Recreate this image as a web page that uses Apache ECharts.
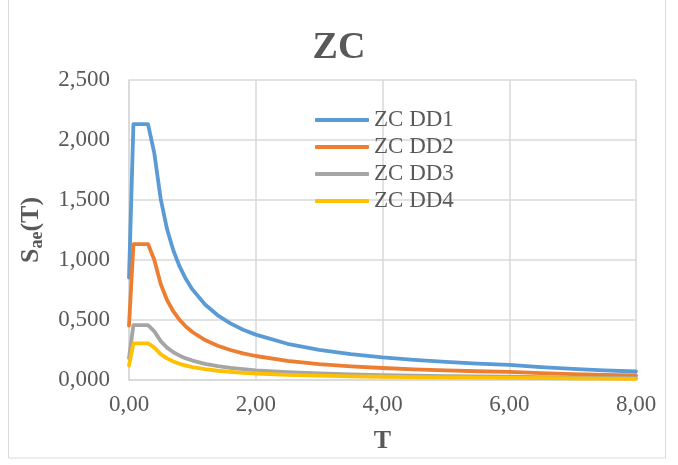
<!DOCTYPE html>
<html>
<head>
<meta charset="utf-8">
<script src="https://cdn.jsdelivr.net/npm/echarts@6/dist/echarts.min.js"></script>
<style>
html,body{margin:0;padding:0;background:#fff;}
#chart{width:678px;height:465px;}
</style>
</head>
<body>
<div id="chart"></div>
<script>
const periods = [0, 0.07, 0.1, 0.2, 0.3, 0.4, 0.5, 0.6, 0.7, 0.8, 0.9, 1.0, 1.2, 1.4, 1.6, 1.8, 2.0, 2.5, 3.0, 3.5, 4.0, 4.5, 5.0, 5.5, 6.0, 6.5, 7.0, 7.5, 8.0];
const zcDD1 = [0.853, 2.133, 2.133, 2.133, 2.133, 1.888, 1.510, 1.258, 1.079, 0.944, 0.839, 0.755, 0.629, 0.539, 0.472, 0.419, 0.378, 0.302, 0.252, 0.216, 0.189, 0.168, 0.151, 0.137, 0.126, 0.107, 0.092, 0.081, 0.071];
const zcDD2 = [0.453, 1.133, 1.133, 1.133, 1.133, 1.000, 0.800, 0.667, 0.571, 0.500, 0.444, 0.400, 0.333, 0.286, 0.250, 0.222, 0.200, 0.160, 0.133, 0.114, 0.100, 0.089, 0.080, 0.073, 0.067, 0.057, 0.049, 0.043, 0.038];
const zcDD3 = [0.183, 0.458, 0.458, 0.458, 0.458, 0.405, 0.324, 0.270, 0.231, 0.203, 0.180, 0.162, 0.135, 0.116, 0.101, 0.090, 0.081, 0.065, 0.054, 0.046, 0.041, 0.036, 0.032, 0.029, 0.027, 0.023, 0.020, 0.017, 0.015];
const zcDD4 = [0.122, 0.306, 0.306, 0.306, 0.306, 0.270, 0.216, 0.180, 0.154, 0.135, 0.120, 0.108, 0.090, 0.077, 0.068, 0.060, 0.054, 0.043, 0.036, 0.031, 0.027, 0.024, 0.022, 0.020, 0.018, 0.015, 0.013, 0.012, 0.010];
const seriesNames = ['ZC DD1', 'ZC DD2', 'ZC DD3', 'ZC DD4'];
const seriesValues = [zcDD1, zcDD2, zcDD3, zcDD4];
const colors = ['#5B9BD5', '#ED7D31', '#A5A5A5', '#FFC000'];
const titleText = 'ZC';

const FONT = '"Liberation Serif", "Times New Roman", serif';
const chart = echarts.init(document.getElementById('chart'), null, {renderer: 'canvas'});
const option = {
  backgroundColor: '#fff',
  animation: false,
  color: colors,
  title: {
    text: titleText,
    left: 'center',
    top: 24,
    textStyle: {fontFamily: FONT, fontSize: 38, fontWeight: 'bold', color: '#595959'}
  },
  graphic: [{
    type: 'rect',
    shape: {x: 8.5, y: -2, width: 657, height: 460},
    style: {fill: 'none', stroke: '#D9D9D9', lineWidth: 1},
    silent: true
  }],
  legend: {
    orient: 'vertical',
    left: 310,
    top: 103,
    itemWidth: 54,
    itemHeight: 4,
    itemGap: 3,
    icon: 'roundRect',
    textStyle: {fontFamily: FONT, fontSize: 23, color: '#595959', lineHeight: 24}
  },
  grid: {left: 129, right: 42, top: 80, bottom: 85, containLabel: false},
  xAxis: {
    type: 'value',
    min: 0, max: 8, interval: 2,
    name: 'T',
    nameLocation: 'middle',
    nameGap: 48,
    nameTextStyle: {fontFamily: FONT, fontSize: 26, fontWeight: 'bold', color: '#595959'},
    axisLine: {show: true, lineStyle: {color: '#D9D9D9', width: 1.5}},
    axisTick: {show: false},
    splitLine: {show: true, lineStyle: {color: '#D9D9D9', width: 1.5}},
    axisLabel: {
      fontFamily: FONT, fontSize: 23, color: '#595959', margin: 13,
      formatter: v => v.toFixed(2).replace('.', ',')
    }
  },
  yAxis: {
    type: 'value',
    min: 0, max: 2.5, interval: 0.5,
    name: '{s|S}{sub|ae}{s|(T)}',
    nameLocation: 'middle',
    nameGap: 83,
    nameRotate: 90,
    nameTextStyle: {
      color: '#595959',
      rich: {
        s: {fontFamily: FONT, fontSize: 26, fontWeight: 'bold', color: '#595959'},
        sub: {fontFamily: FONT, fontSize: 18, fontWeight: 'bold', color: '#595959', padding: [12, 0, 0, 0]}
      }
    },
    axisLine: {show: true, lineStyle: {color: '#D9D9D9', width: 1.5}},
    axisTick: {show: false},
    splitLine: {show: true, lineStyle: {color: '#D9D9D9', width: 1.5}},
    axisLabel: {
      fontFamily: FONT, fontSize: 23, color: '#595959', margin: 19,
      formatter: v => v.toFixed(3).replace('.', ',')
    }
  },
  series: seriesNames.map((name, i) => ({
    name: name,
    type: 'line',
    data: periods.map((t, j) => [t, seriesValues[i][j]]),
    showSymbol: false,
    symbol: 'none',
    smooth: false,
    lineStyle: {width: 3.8, color: colors[i], cap: 'round', join: 'round'},
    itemStyle: {color: colors[i]}
  }))
};
chart.setOption(option);
</script>
</body>
</html>
